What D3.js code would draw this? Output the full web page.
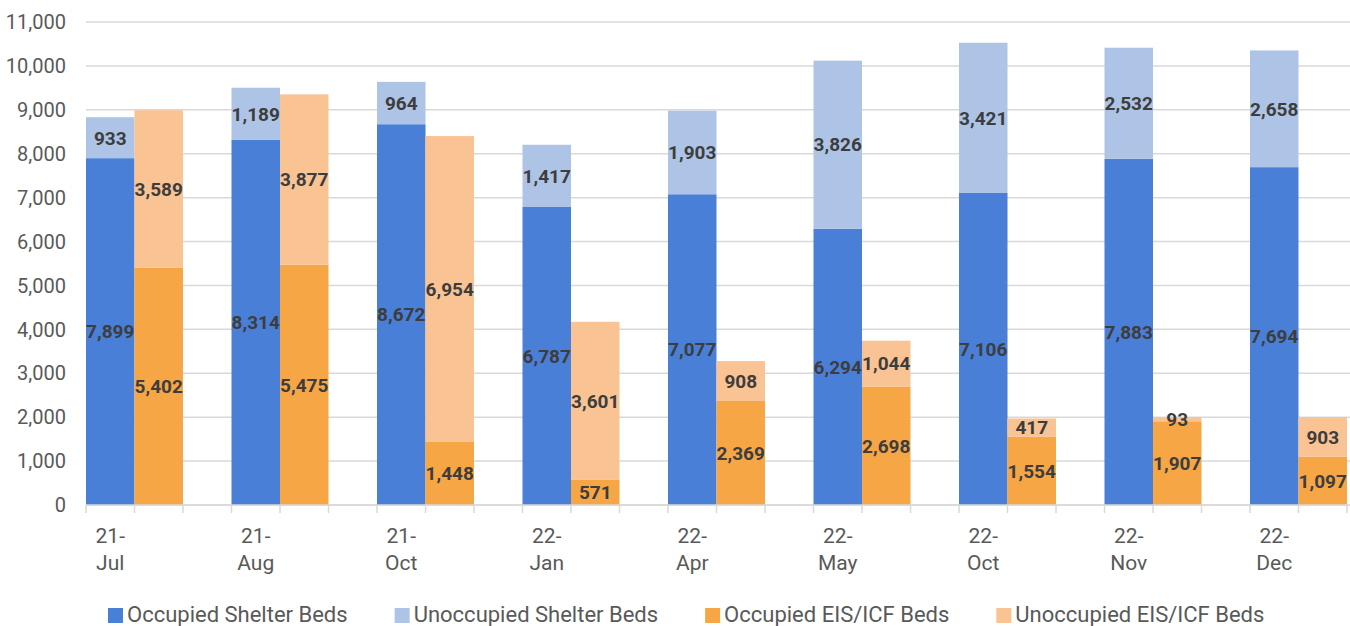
<!DOCTYPE html>
<html>
<head>
<meta charset="utf-8">
<script src="https://cdn.jsdelivr.net/npm/d3@7"></script>
<style>
  html, body { margin: 0; padding: 0; background: #fff; }
  svg { display: block; font-family: Roboto, "Noto Sans", sans-serif; }
</style>
</head>
<body>
<svg id="chart" width="1350" height="626"></svg>
<script>
// data
const categories = ["21-Jul", "21-Aug", "21-Oct", "22-Jan", "22-Apr", "22-May", "22-Oct", "22-Nov", "22-Dec"];
const occupiedShelter   = [7899, 8314, 8672, 6787, 7077, 6294, 7106, 7883, 7694];
const unoccupiedShelter = [933, 1189, 964, 1417, 1903, 3826, 3421, 2532, 2658];
const occupiedEis       = [5402, 5475, 1448, 571, 2369, 2698, 1554, 1907, 1097];
const unoccupiedEis     = [3589, 3877, 6954, 3601, 908, 1044, 417, 93, 903];
const yTicks = d3.range(0, 11001, 1000);

const legendItems = [
  { name: "Occupied Shelter Beds", color: "#4a7fd8" },
  { name: "Unoccupied Shelter Beds", color: "#aec4e6" },
  { name: "Occupied EIS/ICF Beds", color: "#f7a646" },
  { name: "Unoccupied EIS/ICF Beds", color: "#f9c393" }
];

const svg = d3.select("#chart");
const plotLeft = 86, plotBottom = 505, plotTop = 22;
const groupW = 145.5;

// last gap is cut off by the right edge, like the original
const x = d3.scaleBand().domain(categories).range([plotLeft, plotLeft + categories.length * groupW]).padding(0);
const y = d3.scaleLinear().domain([0, 11000]).range([plotBottom, plotTop]);
const bw = x.bandwidth() / 3;

// gridlines
svg.append("g").selectAll("line").data(yTicks).join("line")
  .attr("x1", plotLeft).attr("x2", 1350)
  .attr("y1", d => y(d)).attr("y2", d => y(d))
  .attr("stroke", "#d9d9d9").attr("stroke-width", 1.5);

// y labels
svg.append("g").selectAll("text").data(yTicks).join("text")
  .attr("x", 66).attr("y", d => y(d)).attr("dy", "0.36em")
  .attr("text-anchor", "end").attr("font-size", 20).attr("fill", "#595959")
  .text(d3.format(","));

// stacked segments
const segs = [];
categories.forEach((c, i) => {
  segs.push({ c, col: 0, y0: 0, v: occupiedShelter[i], color: legendItems[0].color });
  segs.push({ c, col: 0, y0: occupiedShelter[i], v: unoccupiedShelter[i], color: legendItems[1].color });
  segs.push({ c, col: 1, y0: 0, v: occupiedEis[i], color: legendItems[2].color });
  segs.push({ c, col: 1, y0: occupiedEis[i], v: unoccupiedEis[i], color: legendItems[3].color });
});

svg.append("g").selectAll("rect").data(segs).join("rect")
  .attr("x", d => x(d.c) + d.col * bw)
  .attr("width", bw)
  .attr("y", d => y(d.y0 + d.v))
  .attr("height", d => y(d.y0) - y(d.y0 + d.v))
  .attr("fill", d => d.color);

// value labels
svg.append("g").selectAll("text").data(segs).join("text")
  .attr("x", d => x(d.c) + d.col * bw + bw / 2)
  .attr("y", d => y(d.y0 + d.v / 2)).attr("dy", "0.36em")
  .attr("text-anchor", "middle")
  .attr("font-size", 19).attr("font-weight", "bold").attr("fill", "#3d3d3d")
  .text(d => d3.format(",")(d.v));

// x axis line + ticks
svg.append("line")
  .attr("x1", plotLeft).attr("x2", 1350).attr("y1", plotBottom).attr("y2", plotBottom)
  .attr("stroke", "#d9d9d9").attr("stroke-width", 1.5);
const tickX = [];
categories.forEach(c => { for (let k = 0; k < 3; k++) tickX.push(x(c) + k * bw); });
svg.append("g").selectAll("line").data(tickX).join("line")
  .attr("x1", d => d).attr("x2", d => d)
  .attr("y1", plotBottom).attr("y2", plotBottom + 8)
  .attr("stroke", "#d9d9d9").attr("stroke-width", 1.5);

// category labels, two lines
const cat = svg.append("g").selectAll("text").data(categories).join("text")
  .attr("text-anchor", "middle").attr("font-size", 21).attr("fill", "#595959");
cat.append("tspan").attr("x", d => x(d) + bw / 2).attr("y", 543).text(d => d.split("-")[0] + "-");
cat.append("tspan").attr("x", d => x(d) + bw / 2).attr("y", 570).text(d => d.split("-")[1]);

// legend
const items = svg.append("g").selectAll("g").data(legendItems).join("g");
items.append("rect").attr("width", 15).attr("height", 15).attr("y", 608).attr("fill", d => d.color);
items.append("text").attr("x", 19).attr("y", 622)
  .attr("font-size", 22).attr("fill", "#595959").text(d => d.name);
let pos = 108;
items.each(function () {
  const g = d3.select(this);
  g.attr("transform", `translate(${pos},0)`);
  pos += 19 + g.select("text").node().getComputedTextLength() + 47;
});
</script>
</body>
</html>
